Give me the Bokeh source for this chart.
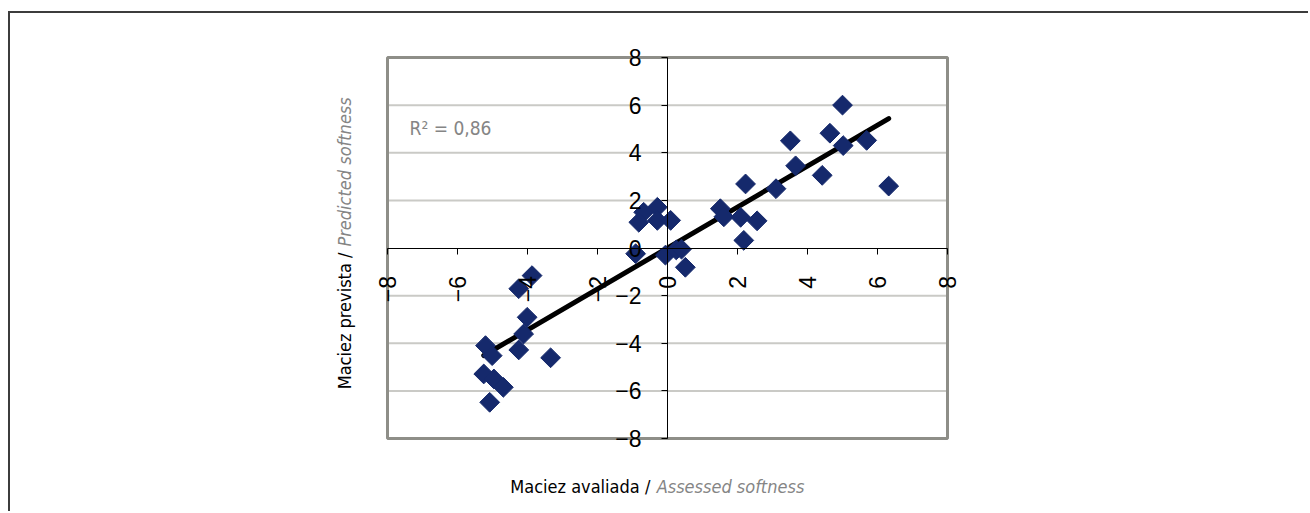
import numpy as np
from bokeh.plotting import figure
from bokeh.models import FixedTicker, Label, ColumnDataSource, Range1d
from bokeh.embed import file_html
from bokeh.resources import INLINE

# ---- data ----
assessed = [5.0, 4.64, 3.51, 5.02, 5.69, 3.66, 3.10, 4.42, 6.32, 2.23,
            1.51, 1.61, 2.09, 2.56, 2.18, -0.29, -0.68, -0.82, -0.29, 0.09,
            -0.91, -0.06, 0.25, 0.40, 0.51, -3.87, -4.25, -4.01, -4.11, -5.20,
            -5.01, -4.25, -3.34, -5.25, -4.96, -4.69, -5.08]
predicted = [6.0, 4.82, 4.50, 4.30, 4.52, 3.45, 2.49, 3.05, 2.60, 2.69,
             1.65, 1.31, 1.29, 1.14, 0.32, 1.71, 1.50, 1.08, 1.16, 1.16,
             -0.24, -0.30, -0.08, -0.05, -0.81, -1.16, -1.71, -2.91, -3.61, -4.10,
             -4.52, -4.28, -4.61, -5.29, -5.50, -5.85, -6.48]
trend_slope = 0.86
trend_intercept = 0.0
r2_text = "R\u00b2 = 0,86"
ticks = [-8, -6, -4, -2, 0, 2, 4, 6, 8]
x_title_main = "Maciez avaliada /"
x_title_en = "Assessed softness"
y_title_main = "Maciez prevista /"
y_title_en = "Predicted softness"

NARROW = "'Liberation Sans Narrow', 'DejaVu Sans Condensed', Roboto, sans-serif"
TICKFONT = "Liberation Sans"

# ---- layout: canvas size and where the -8..8 box sits on the canvas ----
W, H = 1300, 500
BOX_L, BOX_R, BOX_T, BOX_B = 377, 937, 44, 425   # canvas px
lo, hi = ticks[0], ticks[-1]
sx = (BOX_R - BOX_L) / (hi - lo)
sy = (BOX_B - BOX_T) / (hi - lo)
x_range = Range1d(lo - BOX_L / sx, hi + (W - BOX_R) / sx)
y_range = Range1d(lo - (H - BOX_B) / sy, hi + BOX_T / sy)

p = figure(width=W, height=H, x_range=x_range, y_range=y_range,
           output_backend="svg", toolbar_location=None,
           min_border=0, min_border_left=0, min_border_right=0,
           min_border_top=0, min_border_bottom=0)
p.styles = {"margin-top": "11px", "margin-left": "8px",
            "border-top": "2px solid #3c3c3c", "border-left": "2px solid #3c3c3c"}

p.background_fill_color = "white"
p.border_fill_color = "white"
p.outline_line_color = None
p.xgrid.visible = False
p.ygrid.visible = False

# horizontal gridlines inside the box
grid_y = [t for t in ticks if lo < t < hi and t != 0]
p.segment(x0=[lo] * len(grid_y), x1=[hi] * len(grid_y), y0=grid_y, y1=grid_y,
          line_color="#cacac6", line_width=2)

# plot-area border
p.quad(left=[lo], right=[hi], bottom=[lo], top=[hi], fill_color=None,
       line_color="#8e8e88", line_width=3)

# axes crossing at zero
for ax in (p.xaxis[0], p.yaxis[0]):
    ax.fixed_location = 0
    ax.bounds = (lo, hi)
    ax.ticker = FixedTicker(ticks=ticks)
    ax.axis_line_color = "black"
    ax.axis_line_width = 1
    ax.major_tick_line_color = "black"
    ax.major_tick_in = 0
    ax.major_tick_out = 6
    ax.minor_tick_line_color = None
    ax.major_label_text_font = TICKFONT
    ax.major_label_text_font_size = "23px"
    ax.major_label_text_color = "black"

p.xaxis[0].major_label_orientation = np.pi / 2
p.xaxis[0].major_label_standoff = 22
p.yaxis[0].major_label_standoff = 20

# trend line
xs_tr = np.array([min(assessed), max(assessed)])
ys_tr = trend_slope * xs_tr + trend_intercept
p.line(xs_tr, ys_tr, line_color="black", line_width=5, line_cap="round")

# points
src = ColumnDataSource(dict(x=assessed, y=predicted))
p.scatter("x", "y", source=src, marker="square", size=14, angle=np.pi / 4,
          fill_color="#15296c", line_color="#15296c", line_width=1)

# R^2 label
p.add_layout(Label(x=-7.37, y=5.06, text=r2_text, text_font=NARROW,
                   text_font_size="19px", text_color="#858585",
                   text_baseline="alphabetic"))

# x title (two styles)
p.add_layout(Label(x=-0.49, y=-10.0, text=x_title_main, text_font=NARROW,
                   text_font_size="18px", text_color="black",
                   text_align="right", text_baseline="middle"))
p.add_layout(Label(x=-0.31, y=-10.0, text=x_title_en, text_font=NARROW,
                   text_font_size="18px", text_color="#858585",
                   text_font_style="italic",
                   text_align="left", text_baseline="middle"))

# y title (two styles, vertical)
p.add_layout(Label(x=-9.23, y=-0.19, text=y_title_main, text_font=NARROW,
                   text_font_size="18px", text_color="black", angle=np.pi / 2,
                   text_align="right", text_baseline="middle"))
p.add_layout(Label(x=-9.23, y=0.06, text=y_title_en, text_font=NARROW,
                   text_font_size="18px", text_color="#858585",
                   text_font_style="italic", angle=np.pi / 2,
                   text_align="left", text_baseline="middle"))

open("out.html", "w").write(file_html(p, INLINE))
